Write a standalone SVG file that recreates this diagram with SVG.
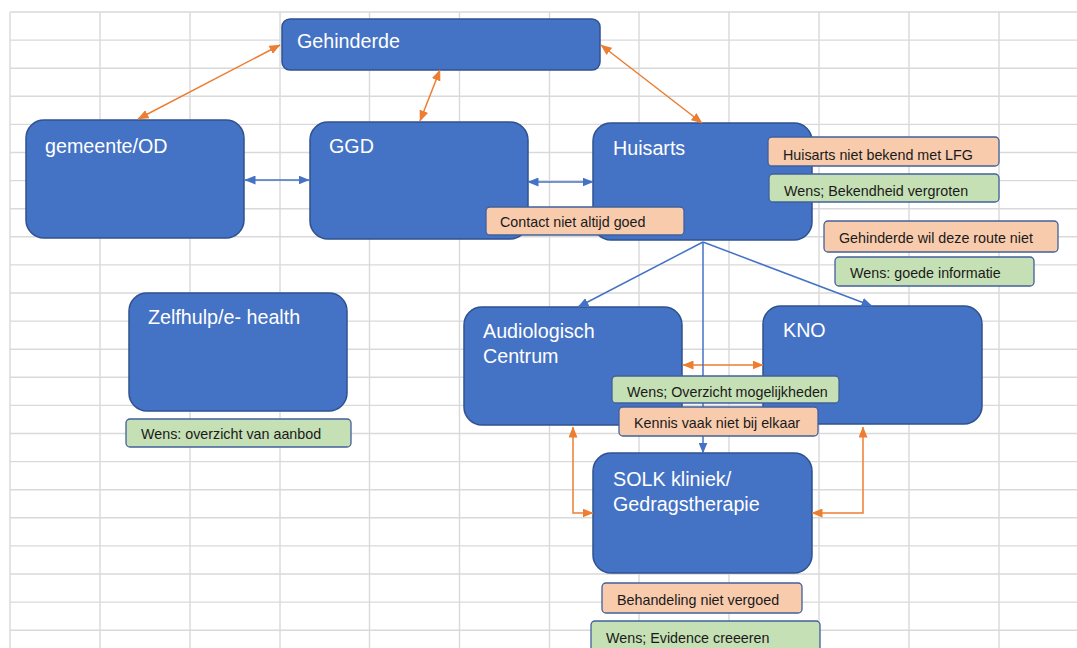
<svg xmlns="http://www.w3.org/2000/svg" width="1077" height="648" viewBox="0 0 1077 648">
<style>
.grid{stroke:#d9d9d9;stroke-width:1.4;fill:none}
.node rect{fill:#4472c4;stroke:#2f528f;stroke-width:1.5}
.node text{fill:#ffffff;font-family:"Liberation Sans",Arial,sans-serif;font-size:19.7px}
.note text{fill:#1a1a1a;font-family:"Liberation Sans",Arial,sans-serif;font-size:14.3px}
.or rect{fill:#f8cbad;stroke:#41609a;stroke-width:1.3}
.gr rect{fill:#c5e0b4;stroke:#41609a;stroke-width:1.3}
.co{stroke:#ed7d31;stroke-width:1.5;fill:none;marker-start:url(#ao);marker-end:url(#ao)}
.cb{stroke:#4472c4;stroke-width:1.5;fill:none;marker-end:url(#ab)}
.cb2{marker-start:url(#ab)}
</style>
<defs>
<marker id="ao" viewBox="0 0 11 9" refX="10.5" refY="4.5" markerWidth="11" markerHeight="9" markerUnits="userSpaceOnUse" orient="auto-start-reverse"><path d="M0,0 L11,4.5 L0,9 z" fill="#ed7d31"/></marker>
<marker id="ab" viewBox="0 0 11 9" refX="10.5" refY="4.5" markerWidth="11" markerHeight="9" markerUnits="userSpaceOnUse" orient="auto-start-reverse"><path d="M0,0 L11,4.5 L0,9 z" fill="#4472c4"/></marker>
</defs>
<rect width="1077" height="648" fill="#ffffff"/>
<g id="grid">
<path class="grid" d="M10,12V648 M100,12V648 M190,12V648 M280,12V648 M369.5,12V648 M459.5,12V648 M549.5,12V648 M639,12V648 M729,12V648 M819,12V648 M909,12V648 M999,12V648"/>
<path class="grid" d="M10,12H1077 M10,40.1H1077 M10,68.2H1077 M10,96.3H1077 M10,124.4H1077 M10,152.5H1077 M10,180.6H1077 M10,208.7H1077 M10,236.8H1077 M10,264.9H1077 M10,293H1077 M10,321.1H1077 M10,349.2H1077 M10,377.3H1077 M10,405.4H1077 M10,433.5H1077 M10,461.6H1077 M10,489.7H1077 M10,517.8H1077 M10,545.9H1077 M10,574H1077 M10,602.1H1077 M10,630.2H1077"/>
</g>
<g id="n-gehinderde" class="node"><rect x="282" y="19" width="318" height="51" rx="8"/><text x="297" y="48">Gehinderde</text></g>
<g id="n-gemeente" class="node"><rect x="26" y="120" width="218" height="118" rx="18"/><text x="45" y="153">gemeente/OD</text></g>
<g id="n-ggd" class="node"><rect x="310" y="122" width="218" height="117" rx="18"/><text x="329" y="153">GGD</text></g>
<g id="n-huisarts" class="node"><rect x="593" y="123" width="219" height="117" rx="18"/><text x="613" y="155">Huisarts</text></g>
<g id="n-zelfhulp" class="node"><rect x="129" y="293" width="218" height="118" rx="18"/><text x="148" y="324">Zelfhulp/e- health</text></g>
<g id="n-audiologisch" class="node"><rect x="464" y="307" width="218" height="118" rx="18"/><text x="483" y="338">Audiologisch</text><text x="483" y="363">Centrum</text></g>
<g id="n-kno" class="node"><rect x="763" y="306" width="219" height="118" rx="18"/><text x="783" y="337">KNO</text></g>
<g id="n-solk" class="node"><rect x="593" y="453" width="219" height="120" rx="18"/><text x="613" y="486">SOLK kliniek/</text><text x="613" y="511">Gedragstherapie</text></g>
<g id="connectors">
<path class="co" d="M280,45 L138,119"/>
<path class="co" d="M440,70 L420,121"/>
<path class="co" d="M601,45 L702,123"/>
<path class="co" d="M683,365 L763,365"/>
<path class="co" d="M573,427 V513 H593"/>
<path class="co" d="M863,427 V513 H812"/>
<path class="cb cb2" d="M245,180 L309,180"/>
<path class="cb cb2" d="M528,182 L593,182"/>
<path class="cb" d="M703,242 L578,307"/>
<path class="cb" d="M703,242 L703,453"/>
<path class="cb" d="M703,242 L872,306"/>
</g>
<g id="note-contact" class="note or"><rect x="486" y="207" width="198" height="28" rx="4"/><text x="500" y="227">Contact niet altijd goed</text></g>
<g id="note-huisarts" class="note or"><rect x="768" y="137" width="231" height="29" rx="4"/><text x="783" y="159.5">Huisarts niet bekend met LFG</text></g>
<g id="note-bekendheid" class="note gr"><rect x="769" y="174" width="230" height="28" rx="4"/><text x="784" y="195.5">Wens; Bekendheid vergroten</text></g>
<g id="note-route" class="note or"><rect x="824" y="221" width="234" height="31" rx="4"/><text x="839" y="242.5">Gehinderde wil deze route niet</text></g>
<g id="note-informatie" class="note gr"><rect x="835" y="257" width="199" height="29" rx="4"/><text x="850" y="278">Wens: goede informatie</text></g>
<g id="note-overzicht" class="note gr"><rect x="612" y="376" width="227" height="27" rx="4"/><text x="627" y="396.5">Wens; Overzicht mogelijkheden</text></g>
<g id="note-kennis" class="note or"><rect x="619" y="407" width="199" height="29" rx="4"/><text x="634" y="427.5">Kennis vaak niet bij elkaar</text></g>
<g id="note-behandeling" class="note or"><rect x="602" y="583" width="200" height="30" rx="4"/><text x="617" y="605">Behandeling niet vergoed</text></g>
<g id="note-evidence" class="note gr"><rect x="591" y="621" width="229" height="31" rx="4"/><text x="606" y="642.5">Wens; Evidence creeeren</text></g>
<g id="note-aanbod" class="note gr"><rect x="126" y="419" width="225" height="28" rx="4"/><text x="141" y="439">Wens: overzicht van aanbod</text></g>
</svg>
